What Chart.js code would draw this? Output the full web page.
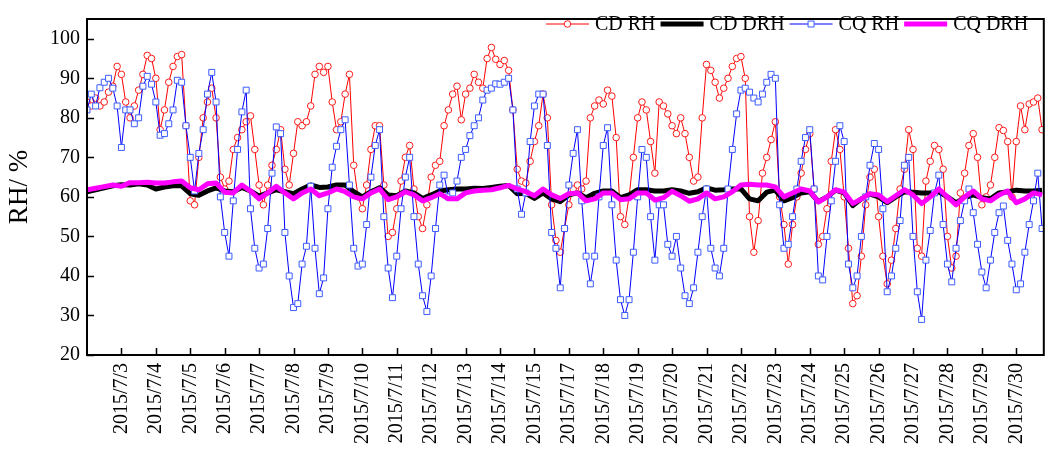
<!DOCTYPE html>
<html>
<head>
<meta charset="utf-8">
<script src="https://cdn.jsdelivr.net/npm/chart.js@4/dist/chart.umd.min.js"></script>
<style>
    body { margin: 0; background: #ffffff; }
    #wrap { width: 1049px; height: 452px; }
</style>
</head>
<body>
<div id="wrap"><canvas id="rhChart" width="1049" height="452"></canvas></div>
<script>
// tick labels (one per day, 7/16 has no label in the original)
var dayLabels = ['2015/7/3', '2015/7/4', '2015/7/5', '2015/7/6', '2015/7/7', '2015/7/8', '2015/7/9',
    '2015/7/10', '2015/7/11', '2015/7/12', '2015/7/13', '2015/7/14', '2015/7/15', '2015/7/17',
    '2015/7/18', '2015/7/19', '2015/7/20', '2015/7/21', '2015/7/22', '2015/7/23', '2015/7/24',
    '2015/7/25', '2015/7/26', '2015/7/27', '2015/7/28', '2015/7/29', '2015/7/30'];
var yTicks = [20, 30, 40, 50, 60, 70, 80, 90, 100];
var seriesNames = ['CD RH', 'CD DRH', 'CQ RH', 'CQ DRH'];

// RH, one value every 3 hours (8 per day)
var cdRH = [
    84, 83, 85, 83, 84, 86.5, 88, 93,
    91, 84, 80, 83, 87, 91, 95.8, 95,
    90, 77, 82, 89, 93, 95.5, 96, 78,
    59, 58, 70, 80, 84, 87.5, 80, 65,
    62, 64, 72, 75, 77, 79, 80.5, 72,
    63, 58, 63, 68, 72, 77, 67, 63,
    71, 79, 78, 79, 83, 91, 93, 91.5,
    93, 84, 77, 79, 86, 91, 68, 60,
    57, 63, 72, 78, 78, 63, 50, 51,
    57, 64, 70, 73, 62, 55, 52, 58,
    65, 68, 69, 78, 82, 86, 88, 79.5,
    86, 87.5, 91, 89, 87.5, 95, 97.8, 94.8,
    93.5, 94.5, 92, 82, 67, 64, 63.5, 69,
    74, 78, 86, 80, 58, 49, 46, 52,
    58, 62, 63, 62, 64, 80, 83, 84.5,
    83.5, 87, 85.5, 75, 55, 53, 60, 70,
    80, 84, 82, 74, 66, 84, 83, 81,
    78, 76, 80, 76, 70, 64, 65, 80,
    93.5, 92, 89, 85, 87.5, 90, 93, 95,
    95.5, 90, 55, 46, 54, 66, 70, 74.5,
    79, 60, 53, 43, 53, 60, 66, 72,
    76, 62, 48, 50, 57, 69, 77, 72,
    60, 47, 33, 35, 45, 58, 65, 67,
    55, 45, 38, 44, 52, 62, 67, 77,
    72, 47, 45, 64, 69, 73, 72, 67,
    50, 42, 45, 61, 66, 73, 76, 70,
    58, 60, 63, 70, 77.5, 76.8, 74, 60,
    74, 83, 77, 83.5, 84, 85, 77
];
var cqRH = [
    82, 86, 83, 87.6, 89, 90, 87.5, 83,
    72.5, 82, 82, 78.5, 80, 88, 90.5, 88.5,
    84, 75.6, 76, 78.5, 82, 89.5, 89, 78,
    70, 61.5, 71, 77, 86, 91.5, 84, 60,
    51, 45, 59, 72, 81.5, 87, 57, 47,
    42, 43, 52, 66, 77.7, 76, 51, 40,
    32, 33, 43, 47.5, 62.7, 47, 35.5, 39.5,
    57, 67.5, 72.8, 77, 79.5, 63, 47, 42.5,
    43, 53, 65, 73, 77, 55, 42, 34.5,
    45, 57, 65, 70, 55, 43, 35, 31,
    40, 52, 63, 65.5, 60, 61, 64, 70,
    72, 75.5, 78, 80, 84.5, 87, 87.5, 88.6,
    88.5, 89, 90, 82, 62, 55.6, 61, 74,
    83, 86, 86, 73, 51, 47, 37, 52,
    63, 71, 77, 59, 45, 38, 45, 60,
    73, 77.5, 58, 44, 34, 30, 34, 46,
    60, 72, 70, 55, 44, 58, 58, 48,
    45, 50, 42, 35, 33, 37, 46, 55,
    62, 47, 42, 40, 47, 62, 72, 81,
    87, 87.5, 86.5, 85, 84, 86, 89, 91,
    90, 58, 47, 48, 55, 62, 69, 75,
    77, 62, 40, 39, 50, 59, 69, 78,
    74, 43, 37, 40, 50, 60, 68, 73.5,
    72, 57, 36, 40, 47, 54, 68, 70,
    50, 36, 29, 44, 51.5, 61, 65.5, 53,
    43, 38.5, 47, 54, 59, 62, 56, 48,
    41, 37, 44, 51, 56, 57.7, 49, 43,
    36.5, 38, 46, 53, 59, 66, 52
];

// DRH, one value every 6 hours (4 per day)
var cdDRH = [
    61.3, 61.8, 62.3, 62.8, 63.1, 63, 63.3, 63, 62, 62.5, 62.8, 62.8,
    60.8, 60.4, 61.5, 62.3, 61.5, 61.3, 62.4, 61.5, 60.2, 61, 61.8, 61.3,
    60.8, 62, 63, 62.4, 62.5, 63, 63, 61.3, 60, 61.3, 62.3, 60.5,
    60.3, 61.5, 61, 59.6, 60.5, 61.5, 61.8, 62, 62, 62.2, 62.1, 62.4,
    62.7, 62.9, 60.8, 60.9, 59.6, 61, 59.5, 58.8, 60.5, 61, 59.8, 60.9,
    61.5, 61.5, 59.8, 60.5, 61.8, 61.8, 61.5, 61.5, 61.8, 61.5, 60.9, 61.3,
    62.3, 61.7, 61.8, 62, 62, 59.5, 59, 61.2, 61.7, 59, 59.8, 61,
    61.3, 58.8, 60, 61.7, 61, 57.8, 59.5, 60.7, 60, 58.5, 60, 61.3,
    61.2, 61, 61, 61.3, 60, 58.5, 59.8, 60.5, 59.8, 59.5, 61, 61.3,
    61.7, 61.5, 61.5, 61.7
];
var cqDRH = [
    61.8, 62.2, 62.6, 63, 62.7, 63.6, 63.6, 63.7, 63.5, 63.5, 63.8, 64,
    62.3, 61.8, 63.3, 63.5, 61.2, 61, 63, 61.5, 59.5, 61, 62.7, 61,
    59.5, 61, 62, 60.3, 61, 62, 61.3, 60, 59.5, 61, 62, 59.3,
    60, 61.3, 60.5, 59, 59.8, 60.8, 59.5, 59.5, 61, 61.5, 61.7, 61.8,
    62.3, 62.9, 62, 61.3, 60.3, 62, 60.5, 59.6, 60.8, 61, 59, 59.5,
    61, 61, 59.3, 59.5, 61, 61, 59.2, 59.8, 61.4, 60.3, 58.9, 59.5,
    61, 59.5, 60, 61.3, 63, 63.2, 63, 63, 62.5, 60, 61, 62,
    61.5, 58.7, 60, 61.8, 61.2, 58.3, 59.5, 60.8, 60.5, 58.8, 60.3, 61.8,
    60.5, 58.3, 60, 62, 60, 58, 60, 61.5, 59.5, 59, 60.5, 61.5,
    58.5, 59.5, 61, 60.5
];

var serif = '"Liberation Serif", "Times New Roman", serif';

function toPoints(values, perDay) {
    return values.map(function (v, i) {
        return { x: i / perDay, y: v };
    });
}

// box, inward tick marks and legend, drawn the way the original does it
var framePlugin = {
    id: 'frame',
    afterDraw: function (chart) {
        var ctx = chart.ctx;
        var a = chart.chartArea;
        var xs = chart.scales.x;
        var ys = chart.scales.y;
        ctx.save();
        ctx.strokeStyle = '#000000';
        ctx.lineWidth = 2;
        ctx.strokeRect(a.left, a.top, a.right - a.left, a.bottom - a.top);
        ctx.lineWidth = 1.5;
        ctx.beginPath();
        yTicks.forEach(function (v) {
            var py = Math.round(ys.getPixelForValue(v)) + 0.5;
            ctx.moveTo(a.left, py);
            ctx.lineTo(a.left + 7, py);
        });
        dayLabels.forEach(function (l, k) {
            var px = Math.round(xs.getPixelForValue(k + 1)) + 0.5;
            ctx.moveTo(px, a.bottom);
            ctx.lineTo(px, a.bottom - 7);
        });
        ctx.stroke();

        // legend
        var x = 546;
        var y = 24;
        ctx.font = '20px ' + serif;
        ctx.textBaseline = 'middle';
        ctx.textAlign = 'left';
        chart.data.datasets.forEach(function (ds) {
            ctx.strokeStyle = ds.borderColor;
            ctx.lineWidth = ds.borderWidth;
            ctx.beginPath();
            ctx.moveTo(x, y);
            ctx.lineTo(x + 43, y);
            ctx.stroke();
            if (ds.pointRadius > 0) {
                ctx.fillStyle = ds.pointBackgroundColor;
                ctx.strokeStyle = ds.pointBorderColor;
                ctx.lineWidth = 1;
                ctx.beginPath();
                if (ds.pointStyle === 'rect') {
                    ctx.rect(x + 18.5, y - 3, 6, 6);
                } else {
                    ctx.arc(x + 21.5, y, ds.pointRadius, 0, Math.PI * 2);
                }
                ctx.fill();
                ctx.stroke();
            }
            x += 49;
            ctx.fillStyle = '#000000';
            ctx.fillText(ds.label, x, y + 1);
            x += ctx.measureText(ds.label).width + 5;
        });
        ctx.restore();
    }
};

function Charts() {
    var ctx = document.getElementById('rhChart').getContext('2d');

    var rhData = {
        datasets: [
            {
                label: seriesNames[0],
                data: toPoints(cdRH, 8),
                borderColor: '#ff0000',
                borderWidth: 1,
                pointStyle: 'circle',
                pointRadius: 3.3,
                pointBorderWidth: 1,
                pointBorderColor: '#ff1a1a',
                pointBackgroundColor: '#ffffff',
                order: 4
            },
            {
                label: seriesNames[1],
                data: toPoints(cdDRH, 4),
                borderColor: '#000000',
                borderWidth: 5,
                borderJoinStyle: 'round',
                pointRadius: 0,
                order: 3
            },
            {
                label: seriesNames[2],
                data: toPoints(cqRH, 8),
                borderColor: '#0000ff',
                borderWidth: 1,
                pointStyle: 'rect',
                pointRadius: 4.2,
                pointBorderWidth: 1,
                pointBorderColor: '#3d5cff',
                pointBackgroundColor: '#ffffff',
                order: 2
            },
            {
                label: seriesNames[3],
                data: toPoints(cqDRH, 4),
                borderColor: '#ff00ff',
                borderWidth: 5,
                borderJoinStyle: 'round',
                pointRadius: 0,
                order: 1
            }
        ]
    };

    var rhOptions = {
        responsive: false,
        animation: false,
        layout: { padding: { top: 5, right: 1, left: 0, bottom: 0 } },
        plugins: {
            legend: { display: false },
            tooltip: { enabled: false }
        },
        scales: {
            x: {
                type: 'linear',
                min: 0,
                max: 27.8,
                grid: { display: false, drawTicks: false },
                border: { display: false },
                afterBuildTicks: function (scale) {
                    scale.ticks = dayLabels.map(function (l, k) { return { value: k + 1 }; });
                },
                afterFit: function (scale) { scale.height = 97; },
                ticks: {
                    autoSkip: false,
                    minRotation: 90,
                    maxRotation: 90,
                    padding: 8,
                    color: '#000000',
                    font: { family: serif, size: 20 },
                    callback: function (value) { return dayLabels[value - 1]; }
                }
            },
            y: {
                min: 20,
                max: 105,
                grid: { display: false, drawTicks: false },
                border: { display: false },
                afterBuildTicks: function (scale) {
                    scale.ticks = yTicks.map(function (v) { return { value: v }; });
                },
                afterFit: function (scale) { scale.width = 87; },
                title: {
                    display: true,
                    text: 'RH/ %',
                    color: '#000000',
                    font: { family: serif, size: 27 },
                    padding: { top: 4, bottom: 0 }
                },
                ticks: {
                    padding: 7,
                    color: '#000000',
                    font: { family: serif, size: 20 }
                }
            }
        }
    };

    new Chart(ctx, {
        type: 'line',
        data: rhData,
        options: rhOptions,
        plugins: [framePlugin]
    });
}

Charts();
</script>
</body>
</html>
